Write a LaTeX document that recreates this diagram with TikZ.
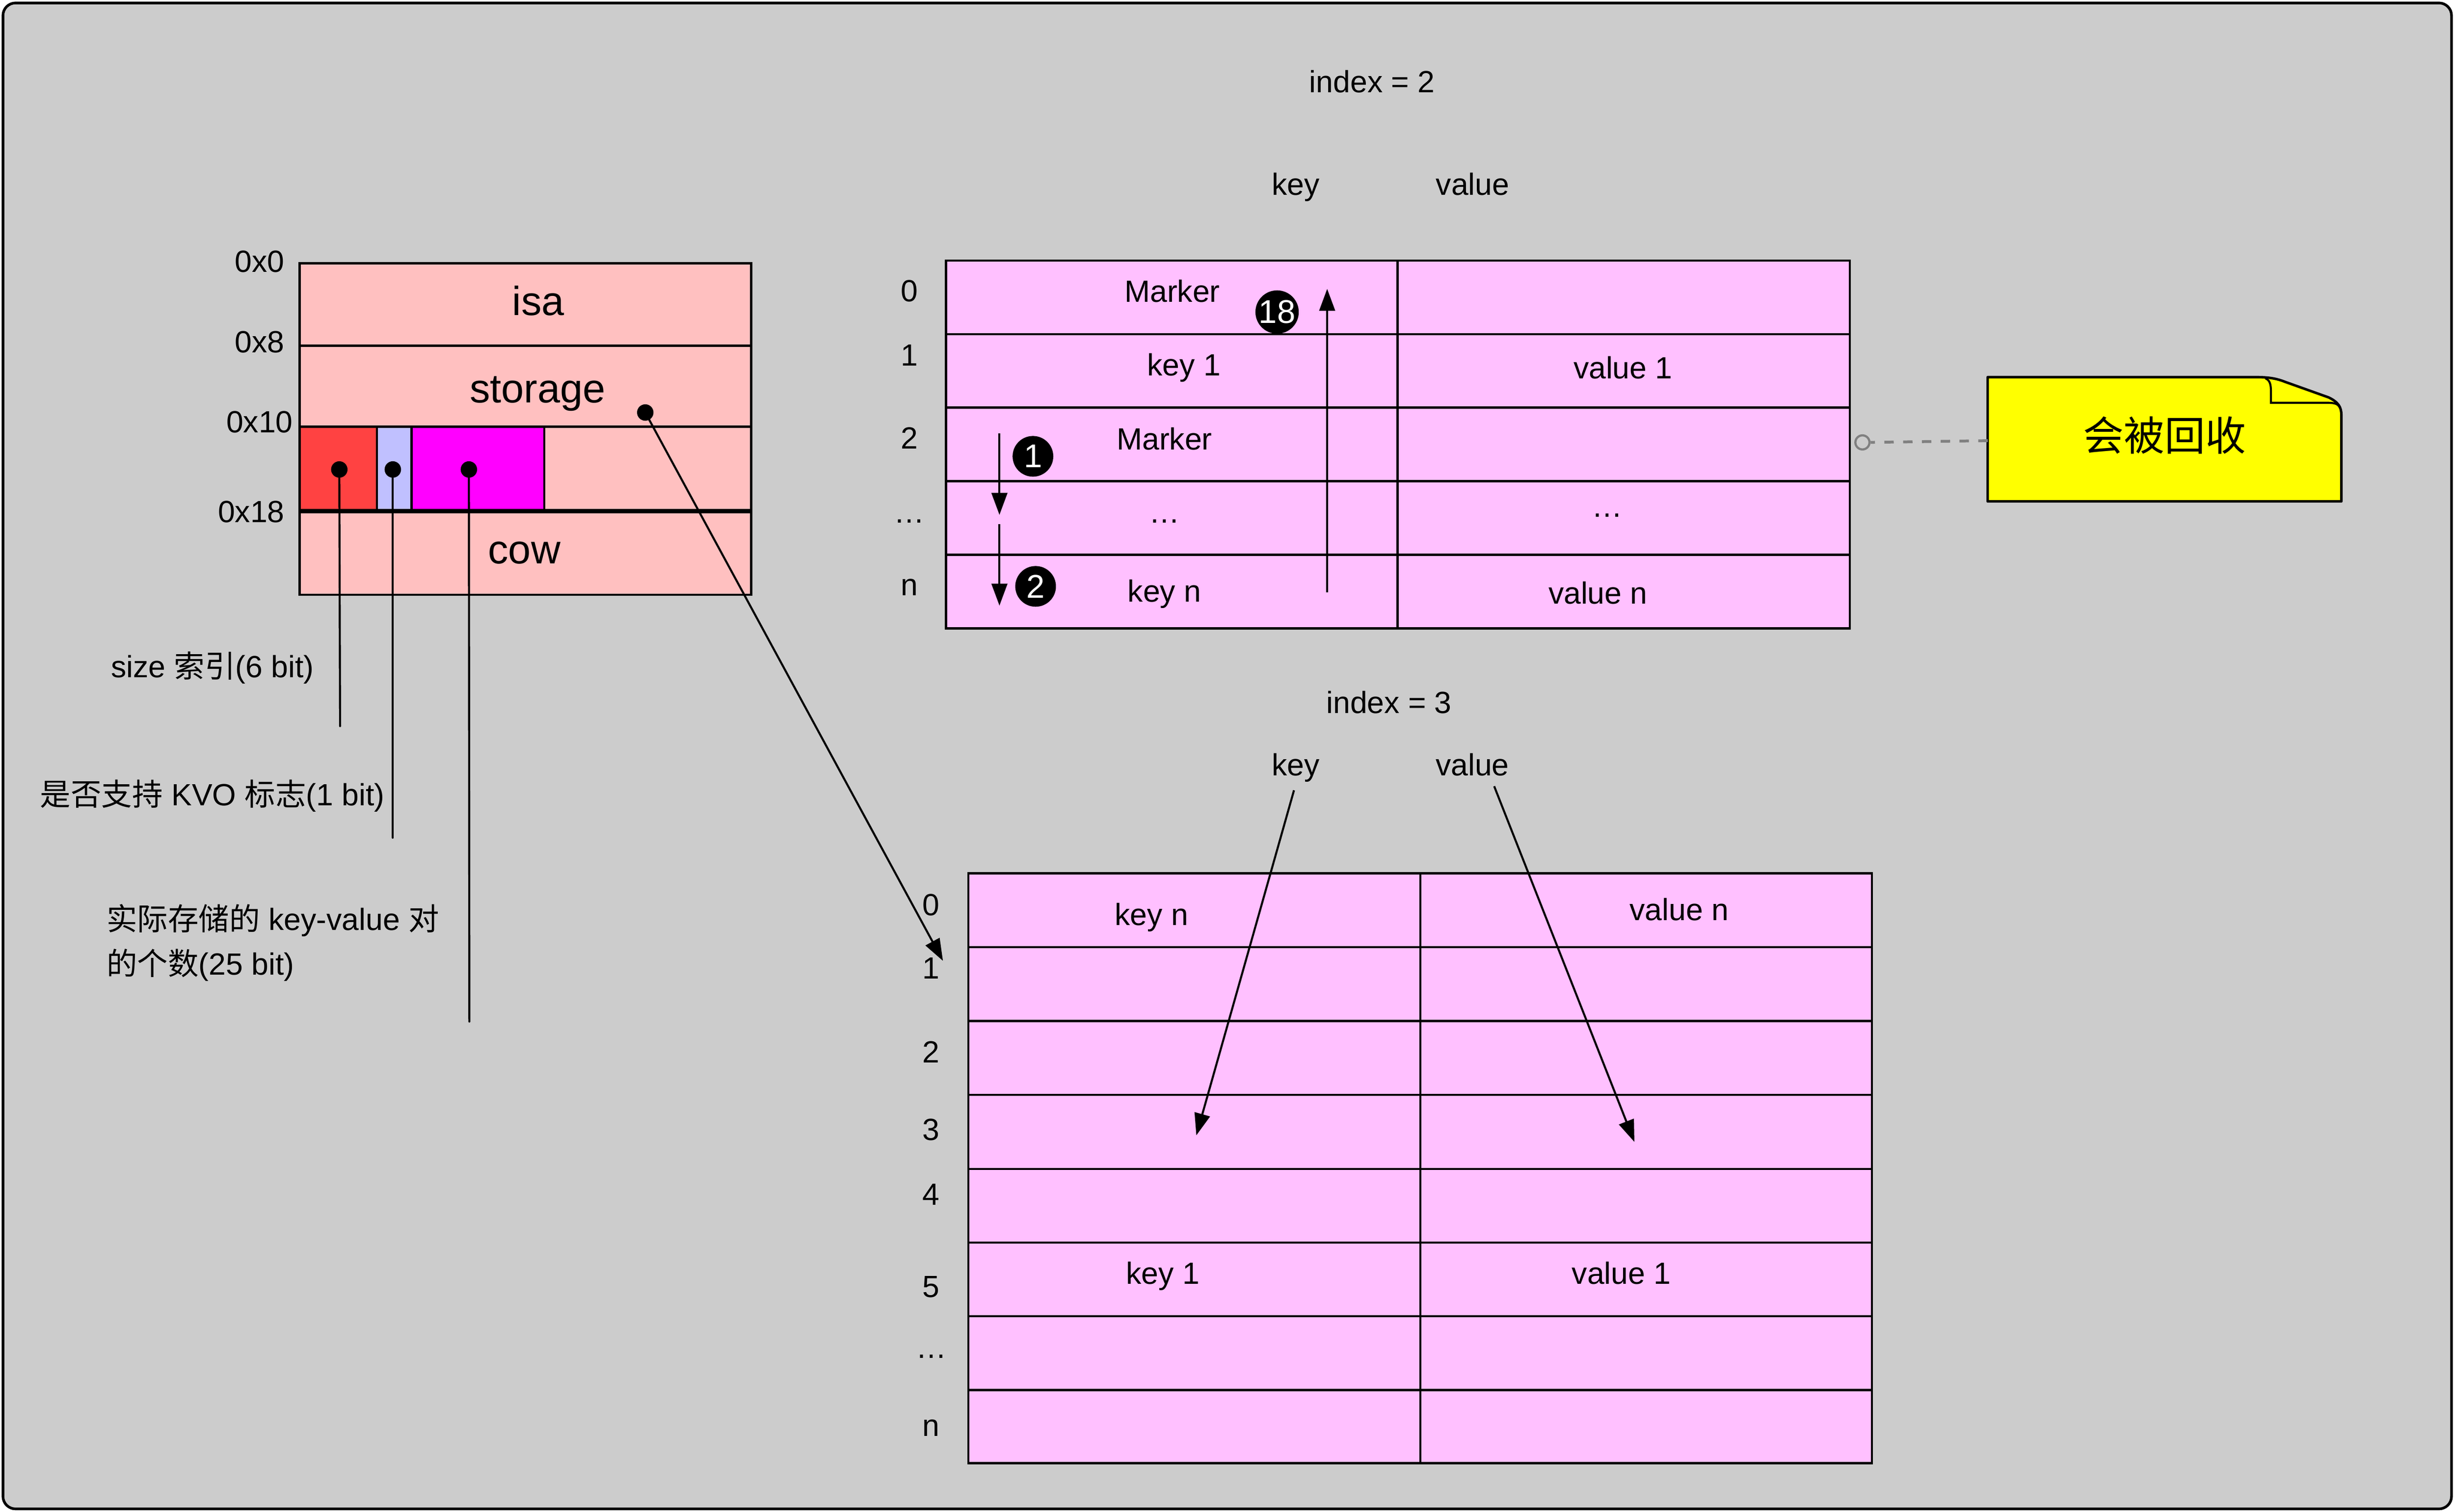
\documentclass[tikz,border=0pt]{standalone}
\usepackage{fontspec}
\setmainfont{Liberation Sans}
\newfontfamily\cjk{Noto Sans CJK SC}
\usetikzlibrary{arrows.meta}
\definecolor{bggray}{HTML}{CCCCCC}
\definecolor{structpink}{HTML}{FFC0C0}
\definecolor{bitred}{HTML}{FF4242}
\definecolor{bitlav}{HTML}{C0C0FF}
\definecolor{bitmag}{HTML}{FF00FF}
\definecolor{cellpink}{HTML}{FFC0FF}
\definecolor{noteyellow}{HTML}{FFFF00}
\definecolor{linkgray}{HTML}{808080}
\begin{document}
\begin{tikzpicture}[x=1pt,y=-1pt,
  txt/.style={inner sep=0pt, anchor=base, font=\fontsize{19.6}{23}\selectfont},
  txtw/.style={txt, anchor=base west},
  txte/.style={txt, anchor=base east},
  bigtxt/.style={inner sep=0pt, anchor=base, font=\fontsize{26}{30}\selectfont},
  tline/.style={line width=1.4pt},
  vline/.style={line width=1.3pt, line cap=round},
  arr/.style={line width=1.3pt, -{Triangle[length=14pt,width=10pt]}},
  dotnode/.style={circle, fill=black, minimum size=10.5pt, inner sep=0pt},
  numcirc/.style={circle, fill=black, minimum size=26pt, inner sep=0pt, text=white, font=\fontsize{21}{21}\selectfont},
  holenode/.style={circle, draw=linkgray, line width=1.4pt, minimum size=9pt, inner sep=0pt}
]
\useasboundingbox (0,0) rectangle (1568,965.9);
\fill[white] (0,0) rectangle (1568,965.9);
\draw[fill=bggray, line width=1.7pt, rounded corners=8pt] (1.9,1.9) rectangle (1566.4,964.2);

% ---------- left struct ----------
\fill[structpink] (191.4,168.3) rectangle (480,380);
\fill[bitred] (191.4,272.7) rectangle (240.8,326.6);
\fill[bitlav] (240.8,272.7) rectangle (263,326.6);
\fill[bitmag] (263,272.7) rectangle (347.8,326.6);
\draw[tline] (191.4,168.3) rectangle (480,380);
\draw[tline] (191.4,221) -- (480,221);
\draw[tline] (191.4,272.7) -- (480,272.7);
\draw[line width=2.7pt] (191.4,326.6) -- (480,326.6);
\draw[tline] (240.8,272.7) -- (240.8,326.6);
\draw[tline] (263,272.7) -- (263,326.6);
\draw[tline] (347.8,272.7) -- (347.8,326.6);

\node[bigtxt] (isa) at (343.9,201.4) {isa};
\node[bigtxt] (storage) at (343.5,257.4) {storage};
\node[bigtxt] (cow) at (335,360.2) {cow};
\node[txte] (o0) at (181.9,174) {0x0};
\node[txte] (o8) at (182,225.3) {0x8};
\node[txte] (o10) at (187.3,276.3) {0x10};
\node[txte] (o18) at (182,333.8) {0x18};

\node[dotnode] (d1) at (216.8,300) {};
\node[dotnode] (d2) at (251,300) {};
\node[dotnode] (d3) at (299.6,300) {};
\coordinate (e1) at (217.3,464);
\coordinate (e2) at (251,535.3);
\coordinate (e3) at (299.9,652.8);
\draw[vline] (d1.center) -- (e1);
\draw[vline] (d2.center) -- (e2);
\draw[vline] (d3.center) -- (e3);

\node[txtw] (lab1) at (70.8,433) {size {\cjk 索引}(6 bit)};
\node[txtw] (lab2) at (25.5,514.8) {{\cjk 是否支持} KVO {\cjk 标志}(1 bit)};
\node[txtw] (lab3a) at (68,594.5) {{\cjk 实际存储的} key-value {\cjk 对}};
\node[txtw] (lab3b) at (68,623) {{\cjk 的个数}(25 bit)};

\node[dotnode] (ds) at (412.3,263.6) {};
\coordinate (st) at (602.5,614);
\draw[arr] (ds.center) -- (st);

% ---------- upper table (index = 2) ----------
\node[txt] (idx2) at (876.7,59) {index = 2};
\node[txt] (hk2) at (828,124.7) {key};
\node[txt] (hv2) at (941,124.7) {value};

\fill[cellpink] (604.4,166.5) rectangle (1182,401.5);
\draw[tline] (604.4,166.5) rectangle (1182,401.5);
\foreach \yy in {213.5,260.5,307.5,354.5} \draw[tline] (604.4,\yy) -- (1182,\yy);
\draw[tline] (893,166.5) -- (893,401.5);

\node[txt] (ur0) at (581,192.8) {0};
\node[txt] (ur1) at (581,233.8) {1};
\node[txt] (ur2) at (581,286.8) {2};
\node[txt] (ur3) at (581,334) {…};
\node[txt] (ur4) at (581,380.5) {n};

\node[txt] (uk0) at (749,193) {Marker};
\node[txt] (uk1) at (756.5,240) {key 1};
\node[txt] (uv1) at (1037,241.8) {value 1};
\node[txt] (uk2) at (744,287.3) {Marker};
\node[txt] (uk3) at (744,334) {…};
\node[txt] (uv3) at (1027,330.5) {…};
\node[txt] (uk4) at (744,384.6) {key n};
\node[txt] (uv4) at (1021,385.8) {value n};

\coordinate (a1s) at (638.6,277);
\coordinate (a1e) at (638.6,329);
\coordinate (a2s) at (638.6,335);
\coordinate (a2e) at (638.6,387);
\coordinate (a3s) at (848,378.5);
\coordinate (a3e) at (848,184.6);
\draw[arr] (a1s) -- (a1e);
\draw[arr] (a2s) -- (a2e);
\draw[arr] (a3s) -- (a3e);
\node[numcirc] (n1) at (660,291.6) {1};
\node[numcirc] (n2) at (661.7,374.7) {2};
\node[numcirc] (n18) at (816,199.4) {18};

% ---------- note ----------
\draw[line width=1.6pt, fill=noteyellow, line join=round]
  (1270,241) -- (1442,241) .. controls (1450,241) and (1455,242) .. (1460,244)
  -- (1488,254) .. controls (1494,257) and (1496,260) .. (1496,265)
  -- (1496,320.4) -- (1270,320.4) -- cycle;
\draw[line width=1.3pt]
  (1447.5,241.8) .. controls (1450.5,243) and (1451,246) .. (1451,250)
  -- (1451,257.4) -- (1488,257.4) .. controls (1492,257.5) and (1494,258.2) .. (1495,260.5);
\node[inner sep=0pt, anchor=base, font=\cjk\fontsize{26}{30}\selectfont] (note) at (1383,288) {会被回收};
\coordinate (notew) at (1270,281.6);
\node[holenode] (hole) at (1190,282.7) {};
\draw[linkgray, line width=1.8pt, dash pattern=on 6pt off 6pt] (notew) -- (hole.east);

% ---------- lower table (index = 3) ----------
\node[txt] (idx3) at (887.5,455.9) {index = 3};
\node[txt] (hk3) at (828,495.6) {key};
\node[txt] (hv3) at (940.8,495.6) {value};

\fill[cellpink] (618.8,558) rectangle (1196,935);
\draw[tline] (618.8,558) rectangle (1196,935);
\foreach \yy in {605.3,652.5,699.7,747,794,841,888.2} \draw[tline] (618.8,\yy) -- (1196,\yy);
\draw[tline] (907.5,558) -- (907.5,935);

\node[txt] (lr0) at (595,585) {0};
\node[txt] (lr1) at (595,625.5) {1};
\node[txt] (lr2) at (595,679) {2};
\node[txt] (lr3) at (595,728.6) {3};
\node[txt] (lr4) at (595,770) {4};
\node[txt] (lr5) at (595,829) {5};
\node[txt] (lr6) at (595,868) {…};
\node[txt] (lr7) at (595,917.8) {n};

\node[txt] (lk0) at (735.8,591.3) {key n};
\node[txt] (lv0) at (1072.9,588) {value n};
\node[txt] (lk5) at (743,820.4) {key 1};
\node[txt] (lv5) at (1036,820.4) {value 1};

\coordinate (kas) at (826.8,505);
\coordinate (kae) at (764.4,725.5);
\coordinate (vas) at (954.7,502.4);
\coordinate (vae) at (1044.3,729.7);
\draw[arr] (kas) -- (kae);
\draw[arr] (vas) -- (vae);
\end{tikzpicture}
\end{document}
